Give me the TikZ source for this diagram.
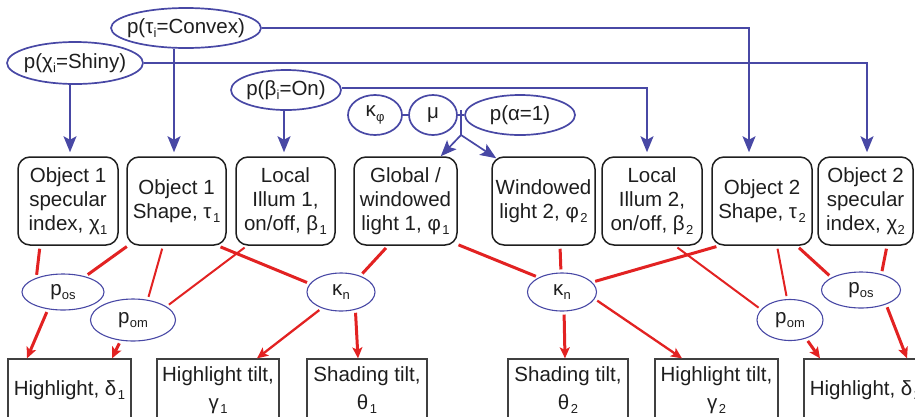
\documentclass[tikz,border=0pt]{standalone}
\usepackage{fontspec}
\setmainfont{Liberation Sans}
\usetikzlibrary{shapes.geometric,arrows.meta,calc}
\definecolor{netblue}{RGB}{72,72,165}
\definecolor{netred}{RGB}{226,34,34}
\definecolor{ink}{RGB}{30,30,30}
% lowered small subscripts, with and without a little gap before them
\newcommand\lowsub[1]{\kern1.5pt\raisebox{-4.5pt}{\fontsize{13}{13}\selectfont #1}}
\newcommand\tightsub[1]{\kern0.3pt\raisebox{-4.5pt}{\fontsize{13}{13}\selectfont #1}}
\begin{document}
\begin{tikzpicture}[x=1pt,y=-1pt,
  txt/.style={font=\fontsize{20.5}{24}\selectfont, text=ink},
  prior/.style={ellipse, draw=netblue, line width=1.7pt, inner xsep=-30pt, inner ysep=-6pt, txt},
  hidden/.style={ellipse, draw=netblue, line width=1.1pt, inner xsep=-30pt, inner ysep=-6pt, txt},
  latent/.style={rectangle, rounded corners=12pt, draw=ink, line width=1.5pt,
    minimum height=88pt, inner sep=0pt, align=center, txt},
  observed/.style={rectangle, draw=ink!85, line width=1.3pt, minimum height=62pt,
    inner sep=0pt, align=center, font=\fontsize{20.5}{28}\selectfont, text=ink},
  blueline/.style={draw=netblue, line width=1.7pt},
  bluearrow/.style={blueline, -{Stealth[length=16pt,width=13pt,inset=3.5pt]}, shorten >=4pt},
  redthick/.style={draw=netred, line width=3pt, shorten <=3pt, shorten >=3pt},
  redthin/.style={draw=netred, line width=2pt, shorten <=3pt, shorten >=3pt},
  redarrow/.style={draw=netred, line width=3pt, -{Stealth[length=11pt,width=10pt,inset=2.5pt]}, shorten <=3pt},
]
\clip (0,0) rectangle (915,416);

% priors
\node[prior, minimum width=150pt, minimum height=40pt] (conv) at (186,28) {p(τ\tightsub{i}=Convex)};
\node[prior, minimum width=136pt, minimum height=42pt] (shiny) at (75,63) {p(χ\tightsub{i}=Shiny)};
\node[prior, minimum width=110pt, minimum height=40pt] (on) at (286,90) {p(β\tightsub{i}=On)};
\node[prior, minimum width=54pt, minimum height=40pt] (kphi) at (375,115) {κ\tightsub{φ}};
\node[prior, minimum width=48pt, minimum height=40pt] (mu) at (433,115) {μ};
\node[prior, minimum width=110pt, minimum height=40pt] (palpha) at (520,115) {p(α=1)};

% latent variables
\node[latent, minimum width=100pt] (b1) at (68,201) {Object 1\\specular\\index, χ\tightsub{1}};
\node[latent, minimum width=99pt] (b2) at (176.5,201) {Object 1\\Shape, τ\lowsub{1}};
\node[latent, minimum width=99pt] (b3) at (285.5,201) {Local\\Illum 1,\\on/off, β\lowsub{1}};
\node[latent, minimum width=103pt] (b4) at (405.5,201) {Global /\\windowed\\light 1, φ\lowsub{1}};
\node[latent, minimum width=103pt] (b5) at (543.5,201) {Windowed\\light 2, φ\lowsub{2}};
\node[latent, minimum width=100pt] (b6) at (652,201) {Local\\Illum 2,\\on/off, β\lowsub{2}};
\node[latent, minimum width=100pt] (b7) at (762,201) {Object 2\\Shape, τ\lowsub{2}};
\node[latent, minimum width=95pt] (b8) at (865.5,201) {Object 2\\specular\\index, χ\tightsub{2}};

% hidden parameters
\node[hidden, minimum width=82pt, minimum height=36pt] (pos1) at (63,292) {p\tightsub{os}};
\node[hidden, minimum width=85pt, minimum height=42pt] (pom1) at (133,320) {p\tightsub{om}};
\node[hidden, minimum width=68pt, minimum height=38pt] (kn1) at (341,292) {κ\tightsub{n}};
\node[hidden, minimum width=69pt, minimum height=38pt] (kn2) at (562,292) {κ\tightsub{n}};
\node[hidden, minimum width=66pt, minimum height=41pt] (pom2) at (790,320) {p\tightsub{om}};
\node[hidden, minimum width=79pt, minimum height=36pt] (pos2) at (861,290) {p\tightsub{os}};

% observed cues
\node[observed, minimum width=123pt] (o1) at (69.5,390) {Highlight, δ\lowsub{1}};
\node[observed, minimum width=122pt] (o2) at (218,390) {Highlight tilt,\\γ\lowsub{1}};
\node[observed, minimum width=120pt] (o3) at (367,390) {Shading tilt,\\θ\lowsub{1}};
\node[observed, minimum width=120pt] (o4) at (568,390) {Shading tilt,\\θ\lowsub{2}};
\node[observed, minimum width=123pt] (o5) at (716.5,390) {Highlight tilt,\\γ\lowsub{2}};
\node[observed, minimum width=123pt] (o6) at (865.5,390) {Highlight, δ\lowsub{2}};

% prior links
\draw[bluearrow] ([xshift=-12pt]conv.south) -- ([xshift=-2.5pt]b2.north);
\draw[bluearrow] (conv.east) -| ([xshift=-13pt]b7.north);
\draw[bluearrow] ([xshift=-5pt]shiny.south) -- ([xshift=2pt]b1.north);
\draw[bluearrow] (shiny.east) -| ([xshift=1.5pt]b8.north);
\draw[bluearrow] ([xshift=-2pt]on.south) -- ([xshift=-1.5pt]b3.north);
\draw[bluearrow] ([yshift=2pt]on.east) -| ([xshift=-5pt]b6.north);
\draw[blueline] (kphi.east) -- (mu.west);
\draw[blueline] (mu.east) -- (palpha.west);
\coordinate (forktop) at ($(mu.east)!0.5!(palpha.west)$);
\coordinate (fork) at ([yshift=-20pt]forktop);
\draw[blueline] ([yshift=5pt]forktop) -- (fork);
\draw[bluearrow, shorten >=0pt] (fork) -- ([xshift=-17pt]b4.north east);
\draw[bluearrow, shorten >=0pt] (fork) -- ([shift={(5pt,-2pt)}]b5.north west);

% object 1 side
\draw[redthick] ([xshift=-28pt]b1.south) -- (pos1.152);
\draw[redthick] ([shift={(3pt,1pt)}]b2.south west) -- (pos1.35);
\draw[redthin] ([xshift=-13.5pt]b2.south) -- (pom1.54);
\draw[redthin] ([xshift=-38.5pt]b3.south) -- (pom1.22);
\draw[redthick] ([xshift=-9pt]b2.south east) -- (kn1.165);
\draw[redthick] ([xshift=-17.5pt]b4.south) -- (kn1.40);
\draw[redarrow] (pos1.229) -- ([xshift=-42.5pt]o1.north);
\draw[redarrow] (pom1.239) -- ([xshift=42.5pt]o1.north);
\draw[redarrow, line width=2.3pt] (kn1.220) -- ([xshift=39pt]o2.north);
\draw[redarrow] (kn1.309) -- ([xshift=-9pt]o3.north);

% object 2 side
\draw[redthick] ([shift={(-2pt,2pt)}]b4.south east) -- (kn2.148);
\draw[redthick] ([xshift=16.5pt]b5.south) -- (kn2.93);
\draw[redthick] ([xshift=8pt]b7.south west) -- (kn2.18);
\draw[redthin] ([xshift=23pt]b6.south) -- (pom2.160);
\draw[redthin] ([xshift=15pt]b7.south) -- (pom2.98);
\draw[redthick] ([xshift=-16pt]b7.south east) -- (pos2.157);
\draw[redthick] ([xshift=21.5pt]b8.south) -- (pos2.38);
\draw[redarrow] (kn2.276) -- ([xshift=-3pt]o4.north);
\draw[redarrow, line width=2.3pt] (kn2.-12) -- ([xshift=-34.5pt]o5.north);
\draw[redarrow] (pom2.-49) -- ([xshift=-45.5pt]o6.north);
\draw[redarrow] (pos2.-30) -- ([xshift=41.5pt]o6.north);
\end{tikzpicture}
\end{document}
